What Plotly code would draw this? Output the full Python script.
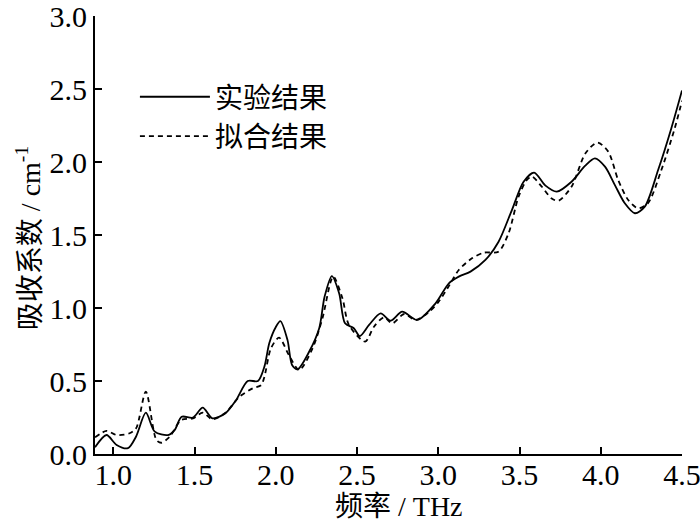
import plotly.graph_objects as go

# values
freq_exp = [0.887, 0.958, 1.02, 1.09, 1.14, 1.20, 1.255, 1.336, 1.377, 1.42, 1.49, 1.55, 1.61, 1.69,
            1.756, 1.827, 1.89, 1.93, 1.96, 2.00, 2.028, 2.072, 2.10, 2.134, 2.205, 2.267, 2.30, 2.345,
            2.39, 2.426, 2.48, 2.517, 2.574, 2.645, 2.707, 2.778, 2.87, 2.983, 3.065, 3.126, 3.198,
            3.29, 3.371, 3.453, 3.525, 3.59, 3.658, 3.729, 3.82, 3.903, 3.964, 4.026, 4.087, 4.148,
            4.21, 4.271, 4.353, 4.434, 4.50]
absorb_exp = [0.046, 0.13, 0.062, 0.04, 0.12, 0.283, 0.153, 0.13, 0.164, 0.255, 0.249, 0.317, 0.244,
              0.279, 0.37, 0.50, 0.50, 0.60, 0.76, 0.87, 0.91, 0.78, 0.61, 0.58, 0.70, 0.861, 1.077,
              1.219, 1.10, 0.895, 0.861, 0.808, 0.884, 0.963, 0.913, 0.975, 0.918, 1.032, 1.169, 1.215,
              1.249, 1.329, 1.454, 1.671, 1.865, 1.927, 1.84, 1.797, 1.865, 1.973, 2.025, 1.968, 1.842,
              1.717, 1.649, 1.694, 1.945, 2.23, 2.49]

freq_fit = [0.887, 0.958, 1.02, 1.10, 1.14, 1.20, 1.265, 1.296, 1.347, 1.418, 1.49, 1.55, 1.61, 1.69,
            1.776, 1.858, 1.91, 1.93, 1.97, 2.02, 2.08, 2.144, 2.226, 2.287, 2.353, 2.41, 2.45, 2.55,
            2.604, 2.666, 2.717, 2.79, 2.86, 2.94, 3.0, 3.065, 3.126, 3.207, 3.28, 3.37, 3.432, 3.494,
            3.545, 3.576, 3.637, 3.698, 3.74, 3.82, 3.906, 3.98, 4.046, 4.107, 4.169, 4.23, 4.29,
            4.373, 4.455, 4.50]
absorb_fit = [0.114, 0.158, 0.13, 0.142, 0.176, 0.427, 0.096, 0.077, 0.118, 0.233, 0.244, 0.283, 0.237,
              0.283, 0.392, 0.45, 0.472, 0.53, 0.724, 0.797, 0.678, 0.575, 0.724, 0.93, 1.215, 1.066,
              0.884, 0.77, 0.872, 0.936, 0.895, 0.959, 0.918, 0.97, 1.04, 1.15, 1.26, 1.34, 1.379,
              1.386, 1.51, 1.762, 1.877, 1.90, 1.831, 1.75, 1.735, 1.831, 2.06, 2.133, 2.071, 1.877,
              1.74, 1.683, 1.717, 1.945, 2.23, 2.42]

x_ticks = [1.0, 1.5, 2.0, 2.5, 3.0, 3.5, 4.0, 4.5]
y_ticks = [0.0, 0.5, 1.0, 1.5, 2.0, 2.5, 3.0]

x_label = "频率 / THz"
y_label = "吸收系数 / cm<sup>-1</sup>"

FONT = "Liberation Serif, Times New Roman, Noto Sans CJK SC"

fig = go.Figure()
fig.add_trace(go.Scatter(x=freq_exp, y=absorb_exp, mode="lines", name="实验结果",
                         line=dict(color="black", width=1.8, shape="spline", smoothing=0.8)))
fig.add_trace(go.Scatter(x=freq_fit, y=absorb_fit, mode="lines", name="拟合结果",
                         line=dict(color="black", width=1.8, dash="5px,4px",
                                   shape="spline", smoothing=0.8)))

axis_style = dict(showline=True, linecolor="black", linewidth=2, ticks="inside", ticklen=7,
                  tickwidth=2, tickcolor="black", showgrid=False, zeroline=False, automargin=False,
                  ticklabeloverflow="allow",
                  tickfont=dict(family=FONT, size=30, color="black"), mirror=False)

fig.update_xaxes(range=[0.887, 4.5], tickvals=x_ticks, ticktext=[f"{v:.1f}" for v in x_ticks],
                 ticklabelstandoff=-7, **axis_style)
fig.update_yaxes(range=[0, 3.0], tickvals=y_ticks, ticktext=[f"{v:.1f}" for v in y_ticks],
                 **axis_style)

# axis titles as paper annotations so they sit where the reference has them
title_font = dict(family=FONT, size=28, color="black")
fig.add_annotation(text=x_label, xref="paper", yref="paper", x=0.518, y=-0.121,
                   xanchor="center", yanchor="middle", showarrow=False, font=title_font)
fig.add_annotation(text=y_label, xref="paper", yref="paper", x=-0.114, y=0.493, textangle=-90,
                   xanchor="center", yanchor="middle", showarrow=False, font=title_font)

fig.update_layout(width=700, height=528, margin=dict(l=95, r=18, t=16, b=74),
                  paper_bgcolor="white", plot_bgcolor="white",
                  legend=dict(x=0.068, y=0.872, xanchor="left", yanchor="top", bgcolor="rgba(0,0,0,0)",
                              font=dict(family=FONT, size=28, color="black"), itemwidth=70,
                              tracegroupgap=0))

# drop the default 8px body margin so the figure fills the window exactly
fig.write_html("out.html", config={"displayModeBar": False},
               post_script="document.body.style.margin = '0';")
